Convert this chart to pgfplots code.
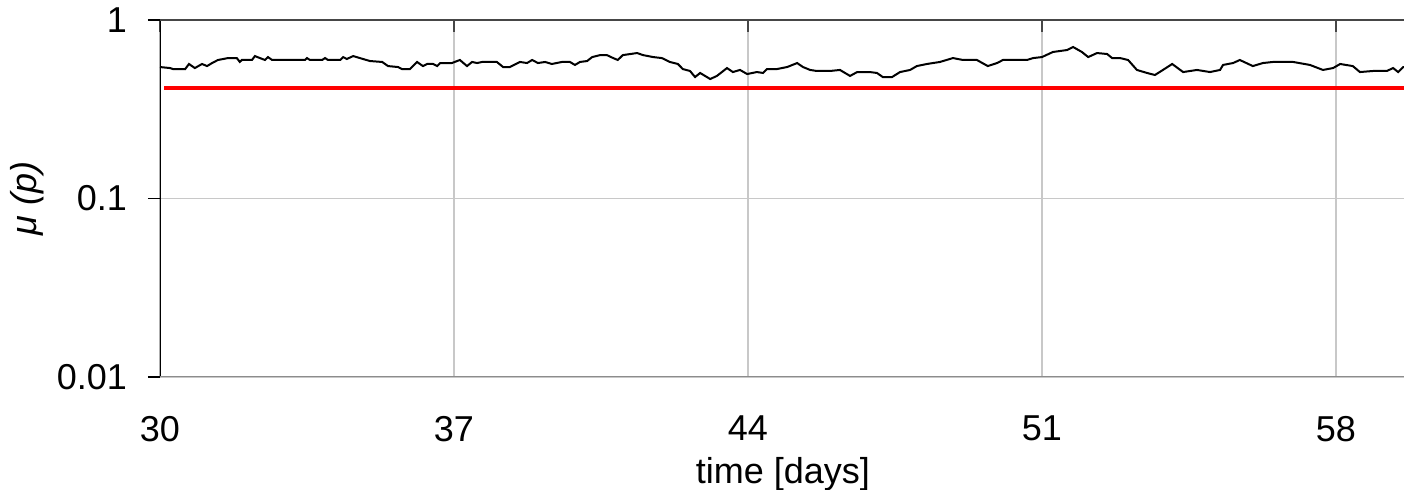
\documentclass[border=0pt]{standalone}
\usepackage{fontspec}
\setmainfont{Liberation Sans}
\usepackage{pgfplots}
\pgfplotsset{compat=1.18}
\definecolor{gridgray}{RGB}{200,200,200}
\definecolor{botgray}{RGB}{140,140,140}
\definecolor{topgray}{RGB}{70,70,70}
\begin{document}
\begin{tikzpicture}
\path[use as bounding box] (-80pt,-56.5pt) rectangle (622pt,188.5pt);
\begin{axis}[
  scale only axis,
  width=623pt, height=178.5pt,
  xmin=30, xmax=59.667,
  ymode=log, ymin=0.01, ymax=1,
  xtick={30,37,44,51,58},
  ytick={0.01,0.1,1},
  yticklabels={0.01,0.1,1},
  yminorticks=false,
  minor y tick style={draw=none},
  /pgf/number format/assume math mode=true,
  xtick pos=upper, xticklabel pos=lower,
  ytick pos=left,
  major tick length=6pt,
  x tick style={topgray, line width=0.8pt},
  y tick style={black, line width=0.6pt},
  xtick align=inside, ytick align=outside,
  grid=major,
  major grid style={gridgray, line width=0.6pt},
  axis line style={draw=none},
  tick label style={font=\fontsize{18}{21}\selectfont},
  label style={font=\fontsize{18}{21}\selectfont},
  xticklabel style={yshift=-16pt},
  yticklabel style={xshift=-7pt},
  xlabel={time [days]},
  ylabel={\itshape μ (p)},
  xlabel style={yshift=-1pt},
  ylabel style={yshift=-0.5pt},
  clip=true,
]
\addplot[black, line width=1pt] coordinates {
(30.00,0.545)(30.24,0.538)(30.31,0.531)(30.60,0.531)(30.69,0.567)(30.83,0.538)
(31.00,0.567)(31.12,0.552)(31.24,0.574)(31.38,0.597)(31.62,0.612)(31.83,0.612)
(31.90,0.582)(31.95,0.597)(32.19,0.597)(32.26,0.628)(32.38,0.612)(32.50,0.597)
(32.57,0.620)(32.67,0.597)(33.45,0.597)(33.50,0.612)(33.57,0.597)(33.86,0.597)
(33.93,0.612)(34.00,0.597)(34.29,0.597)(34.36,0.620)(34.45,0.605)(34.60,0.628)
(34.76,0.612)(34.83,0.605)(35.00,0.589)(35.29,0.582)(35.43,0.552)(35.67,0.545)
(35.76,0.531)(35.95,0.531)(36.12,0.582)(36.26,0.552)(36.36,0.567)(36.50,0.567)
(36.60,0.552)(36.67,0.574)(36.95,0.574)(37.14,0.597)(37.31,0.552)(37.43,0.582)
(37.55,0.574)(37.67,0.582)(38.02,0.582)(38.17,0.545)(38.33,0.545)(38.57,0.582)
(38.74,0.574)(38.86,0.597)(39.00,0.574)(39.17,0.582)(39.33,0.567)(39.57,0.582)
(39.76,0.582)(39.88,0.560)(40.00,0.582)(40.17,0.589)(40.29,0.620)(40.48,0.636)
(40.64,0.636)(40.79,0.612)(40.90,0.597)(41.02,0.636)(41.36,0.653)(41.50,0.636)
(41.74,0.620)(41.95,0.612)(42.14,0.582)(42.33,0.567)(42.45,0.531)(42.62,0.518)
(42.74,0.479)(42.86,0.505)(43.10,0.467)(43.26,0.486)(43.50,0.538)(43.64,0.511)
(43.81,0.525)(43.98,0.498)(44.21,0.511)(44.36,0.505)(44.45,0.531)(44.69,0.531)
(44.93,0.545)(45.17,0.574)(45.31,0.545)(45.48,0.525)(45.64,0.518)(45.95,0.518)
(46.19,0.525)(46.43,0.486)(46.60,0.511)(46.90,0.511)(47.07,0.505)(47.21,0.479)
(47.43,0.479)(47.62,0.511)(47.86,0.525)(48.02,0.552)(48.26,0.567)(48.57,0.582)
(48.88,0.612)(49.12,0.597)(49.45,0.597)(49.71,0.552)(49.93,0.574)(50.07,0.597)
(50.31,0.597)(50.64,0.597)(50.79,0.612)(51.00,0.620)(51.26,0.662)(51.60,0.679)
(51.74,0.706)(51.95,0.662)(52.10,0.620)(52.31,0.653)(52.55,0.645)(52.67,0.612)
(52.86,0.612)(53.05,0.597)(53.26,0.525)(53.50,0.505)(53.69,0.492)(53.88,0.525)
(54.10,0.567)(54.36,0.511)(54.69,0.525)(55.00,0.511)(55.24,0.525)(55.31,0.560)
(55.55,0.574)(55.71,0.597)(56.02,0.552)(56.26,0.574)(56.50,0.582)(56.98,0.582)
(57.38,0.560)(57.69,0.525)(57.93,0.538)(58.10,0.567)(58.40,0.552)(58.57,0.511)
(58.88,0.518)(59.21,0.518)(59.36,0.538)(59.48,0.511)(59.60,0.545)(59.667,0.545)
};
\addplot[red, line width=2pt] coordinates {(30.1,0.416)(59.667,0.416)};
\draw[black, line width=0.6pt] (rel axis cs:0,0) -- (rel axis cs:0,1);
\draw[topgray, line width=0.8pt] (rel axis cs:0,1) -- (rel axis cs:1,1);
\draw[botgray, line width=1.1pt] (rel axis cs:0,0) -- (rel axis cs:1,0);
\end{axis}
\end{tikzpicture}
\end{document}
